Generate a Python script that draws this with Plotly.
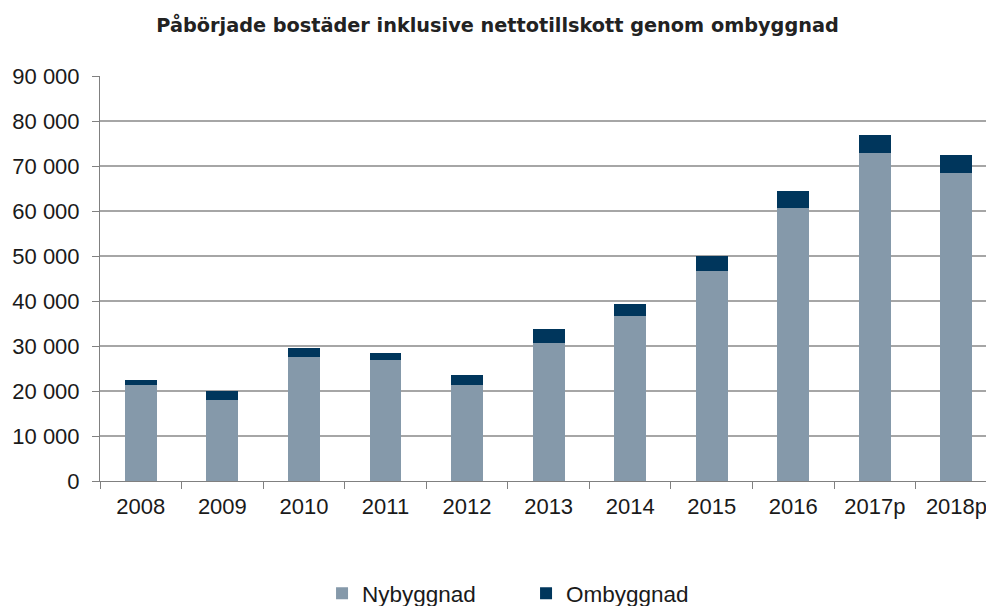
import plotly.graph_objects as go

years = ["2008", "2009", "2010", "2011", "2012", "2013", "2014", "2015", "2016", "2017p", "2018p"]
nybyggnad = [21300, 18000, 27600, 26800, 21400, 30700, 36600, 46700, 60700, 73000, 68400]
ombyggnad = [1100, 2000, 1900, 1600, 2100, 3000, 2700, 3300, 3700, 4000, 4100]
y_ticks = [0, 10000, 20000, 30000, 40000, 50000, 60000, 70000, 80000, 90000]

fig = go.Figure()
fig.add_trace(go.Bar(x=years, y=nybyggnad, name="Nybyggnad",
                     marker=dict(color="#8599AA", line=dict(width=0))))
fig.add_trace(go.Bar(x=years, y=ombyggnad, name="Ombyggnad",
                     marker=dict(color="#00365C", line=dict(width=0))))

# page has an 8px body margin, so the figure is 986x598 drawn at (8, 8)
fig.update_layout(
    barmode="stack",
    bargap=0.608,
    width=986, height=598,
    margin=dict(l=92, r=0, t=68, b=125, autoexpand=False),
    paper_bgcolor="white", plot_bgcolor="white",
    separators=", ",
    font=dict(family="Liberation Sans, Arial, sans-serif", size=22, color="#1a1a1a"),
    title=dict(text="<b>Påbörjade bostäder inklusive nettotillskott genom ombyggnad</b>",
               x=0.4965, xref="container", xanchor="center", y=0.9716, yanchor="middle",
               font=dict(family="DejaVu Sans, sans-serif", size=19.3, color="#222222")),
    showlegend=True,
    legend=dict(orientation="h", x=0.3185, xanchor="left", xref="container",
                y=0.0205, yanchor="middle", yref="container",
                font=dict(size=22.5), traceorder="normal", itemwidth=30,
                entrywidth=159, entrywidthmode="pixels"),
    xaxis=dict(type="category", range=[-0.5, 10.46], showline=True, linecolor="#808080", linewidth=1,
               ticks="outside", tickson="boundaries", ticklen=7, tickcolor="#808080",
               ticklabelstandoff=6, showgrid=False, tickfont=dict(size=22)),
    yaxis=dict(range=[0, 90000], tickvals=y_ticks, tickformat=",d",
               showline=True, linecolor="#808080", linewidth=1,
               ticks="outside", ticklen=7, tickcolor="#808080", ticklabelstandoff=8,
               showgrid=True, gridcolor="#A6A6A6", gridwidth=1.5,
               zeroline=False, tickfont=dict(size=22)),
)

fig.write_html("out.html")
